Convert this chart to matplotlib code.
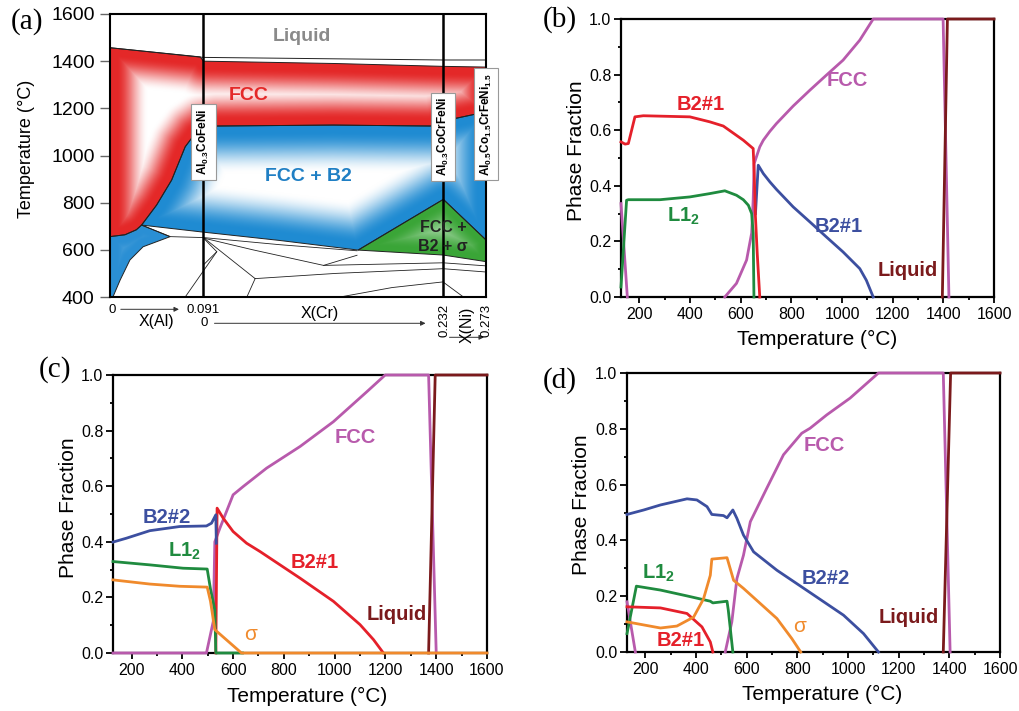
import numpy as np
import matplotlib
matplotlib.use('Agg')
import matplotlib.pyplot as plt
from matplotlib.patches import Polygon, FancyArrowPatch
from matplotlib.ticker import MultipleLocator, FormatStrFormatter

plt.rcParams['font.family'] = ['Liberation Sans', 'DejaVu Sans']
plt.rcParams['mathtext.fontset'] = 'custom'
plt.rcParams['mathtext.rm'] = 'Liberation Sans'
plt.rcParams['mathtext.bf'] = 'Liberation Sans:bold'
plt.rcParams['mathtext.it'] = 'Liberation Sans:italic'

# ================= DATA =================
# ---- panel (a): isopleth, x = position along composite composition axis (0..1), y = T (°C)
a_yticks = [400, 600, 800, 1000, 1200, 1400, 1600]
liq_u = [0, 0.2485, 0.8856, 1.0]
liq_T = [1457, 1416, 1405, 1405]
fcc_u = [0, 0.24, 0.2485, 0.6, 0.8856, 1.0, 1.0, 0.918, 0.852, 0.594, 0.284, 0.2485,
         0.225, 0.2, 0.164, 0.124, 0.084, 0.07, 0.04, 0]
fcc_T = [1457, 1418, 1400, 1390, 1378, 1375, 1185, 1157, 1125, 1129, 1125, 1115,
         1090, 1037, 896, 790, 705, 685, 664, 656]
b2_u = [0.084, 0.124, 0.164, 0.2, 0.225, 0.2485, 0.284, 0.594, 0.852, 0.918, 1.0,
        1.0, 0.8865, 0.66, 0.45, 0.2485]
b2_T = [705, 790, 896, 1037, 1090, 1115, 1125, 1129, 1125, 1157, 1185,
        642, 814, 599, 640, 675]
b2low_u = [0, 0.04, 0.07, 0.084, 0.16, 0.088, 0.053, 0.027, 0.008, 0]
b2low_T = [656, 664, 685, 705, 656, 613, 557, 472, 401, 400]
sig_u = [0.66, 0.8865, 1.0, 1.0, 0.8856]
sig_T = [599, 814, 642, 550, 578]
# thin phase boundaries in the white low-temperature region
wl1_u, wl1_T = [0.084, 0.16, 0.2485], [705, 656, 652]
wl2_u, wl2_T = [0.2485, 0.45, 0.657], [652, 622, 596]
wl3_u, wl3_T = [0.2485, 0.38, 0.568, 0.657], [650, 600, 534, 577]
wl4_u, wl4_T = [0.568, 0.8856, 1.0], [534, 545, 532]
wl5_u, wl5_T = [0.2485, 0.386], [652, 478]
wl6_u, wl6_T = [0.386, 0.6, 0.8856, 1.0], [478, 500, 520, 506]
wl7_u, wl7_T = [0.2485, 0.284, 0.2], [650, 592, 400]
wl8_u, wl8_T = [0.2485, 0.284], [536, 592]
wl9_u, wl9_T = [0.364, 0.386], [400, 478]
wl10_u, wl10_T = [0.612, 0.75, 0.8856, 0.94], [400, 440, 464, 400]
alloy_u = [0.2485, 0.8856]

# ---- panel (b): Al0.3CoFeNi
b_b21_T = [127, 143, 156, 182, 215, 399, 478, 531, 610, 649, 653, 658, 665, 675]
b_b21_f = [0.558, 0.55, 0.552, 0.648, 0.652, 0.648, 0.63, 0.615, 0.564, 0.534, 0.444, 0.288, 0.156, 0.0]
b_l12_T = [127, 149, 156, 281, 399, 478, 537, 583, 610, 630, 643, 649, 652]
b_l12_f = [0.036, 0.348, 0.35, 0.35, 0.36, 0.372, 0.382, 0.366, 0.35, 0.33, 0.30, 0.23, 0.0]
b_fcclo_T = [127, 152]
b_fcclo_f = [0.336, 0.0]
b_fcc_T = [537, 583, 623, 643, 649, 653, 675, 689, 715, 741, 807, 873, 938, 1004, 1070, 1123, 1399, 1422]
b_fcc_f = [0.0, 0.049, 0.133, 0.23, 0.35, 0.48, 0.54, 0.564, 0.596, 0.624, 0.687, 0.744, 0.798, 0.852,
           0.924, 1.0, 1.0, 0.0]
b_b21b_T = [658, 669, 689, 715, 741, 807, 873, 938, 1004, 1070, 1096, 1123]
b_b21b_f = [0.30, 0.474, 0.444, 0.414, 0.387, 0.324, 0.27, 0.216, 0.162, 0.102, 0.06, 0.0]
b_liq_T = [1396, 1416, 1600]
b_liq_f = [0.0, 1.0, 1.0]

# ---- panel (c): Al0.3CoCrFeNi
c_b22_T = [127, 180, 272, 390, 495, 515, 532, 534]
c_b22_f = [0.399, 0.413, 0.44, 0.455, 0.457, 0.467, 0.497, 0.395]
c_l12_T = [127, 272, 403, 498, 511, 528, 532, 637]
c_l12_f = [0.329, 0.317, 0.305, 0.302, 0.23, 0.156, 0.0, 0.0]
c_sig_T = [127, 272, 390, 498, 511, 528, 633, 1600]
c_sig_f = [0.263, 0.248, 0.24, 0.237, 0.186, 0.084, 0.0, 0.0]
c_fcc_T = [127, 495, 522, 528, 548, 600, 640, 732, 864, 995, 1127, 1199, 1370, 1400]
c_fcc_f = [0.0, 0.0, 0.114, 0.4, 0.449, 0.569, 0.599, 0.665, 0.743, 0.832, 0.94, 1.0, 1.0, 0.0]
c_b21_T = [532, 537, 561, 600, 653, 706, 785, 864, 995, 1100, 1153, 1192]
c_b21_f = [0.0, 0.521, 0.485, 0.437, 0.395, 0.365, 0.317, 0.269, 0.186, 0.102, 0.048, 0.0]
c_liq_T = [1370, 1396, 1600]
c_liq_f = [0.0, 1.0, 1.0]

# ---- panel (d): Al0.5Co1.5CrFeNi1.5
d_b22_T = [127, 193, 259, 364, 403, 443, 462, 508, 522, 545, 561, 587, 627, 719, 850, 982, 1061, 1120]
d_b22_f = [0.493, 0.509, 0.527, 0.549, 0.545, 0.521, 0.493, 0.489, 0.481, 0.509, 0.479, 0.419,
           0.359, 0.293, 0.213, 0.132, 0.066, 0.0]
d_l12_T = [127, 164, 259, 364, 456, 466, 522, 527, 545]
d_l12_f = [0.066, 0.236, 0.222, 0.201, 0.182, 0.176, 0.182, 0.15, 0.0]
d_b21_T = [127, 259, 364, 423, 456, 466]
d_b21_f = [0.162, 0.158, 0.138, 0.09, 0.036, 0.0]
d_sig_T = [127, 259, 324, 390, 429, 456, 462, 522, 548, 587, 653, 719, 778, 813]
d_sig_f = [0.108, 0.086, 0.093, 0.125, 0.19, 0.275, 0.333, 0.338, 0.257, 0.228, 0.174, 0.12, 0.048, 0.0]
d_fcclo_T = [127, 160]
d_fcclo_f = [0.18, 0.0]
d_fcc_T = [515, 541, 561, 587, 614, 679, 745, 817, 850, 916, 1008, 1120, 1376, 1403]
d_fcc_f = [0.0, 0.108, 0.263, 0.347, 0.467, 0.587, 0.707, 0.784, 0.802, 0.85, 0.91, 1.0, 1.0, 0.0]
d_liq_T = [1376, 1405, 1600]
d_liq_f = [0.0, 1.0, 1.0]

x_ticks = [200, 400, 600, 800, 1000, 1200, 1400, 1600]

# ================= STYLE =================
RED = '#e5202a'
GREEN = '#1f8b3f'
BLUE = '#3c4fa0'
MAG = '#b85aac'
ORANGE = '#f08a2c'
LIQ = '#7b1a1c'
LW = 2.0

W, H = 1019, 711
fig = plt.figure(figsize=(W / 100, H / 100), dpi=100)


def rect(x0, y0, x1, y1):
    return [x0 / W, 1 - y1 / H, (x1 - x0) / W, (y1 - y0) / H]


def fpx(x, y):
    return (x / W, 1 - y / H)


# ================= PANEL (a) =================
axa = fig.add_axes(rect(110, 14, 486, 297))
axa.set_xlim(0, 1)
axa.set_ylim(400, 1600)
AW, AH = 376.0, 283.0
nx, ny = 376, 283
gu = np.linspace(0, 1, nx)
gT = np.linspace(400, 1600, ny)
GU, GT = np.meshgrid(gu, gT)
GX = GU * AW
GY = (GT - 400) / 1200 * AH


def shade(uu, TT, color, d0, w, strength):
    px = np.array(uu) * AW
    py = (np.array(TT, float) - 400) / 1200 * AH
    d = np.full(GX.shape, np.inf)
    n = len(px)
    for i in range(n):
        x1, y1 = px[i], py[i]
        x2, y2 = px[(i + 1) % n], py[(i + 1) % n]
        dx, dy = x2 - x1, y2 - y1
        L2 = dx * dx + dy * dy
        if L2 == 0:
            continue
        t = np.clip(((GX - x1) * dx + (GY - y1) * dy) / L2, 0, 1)
        dd = np.hypot(GX - (x1 + t * dx), GY - (y1 + t * dy))
        d = np.minimum(d, dd)
    f = np.clip((d - d0) / w, 0, 1)
    f = f * f * (3 - 2 * f)
    base = np.array(matplotlib.colors.to_rgb(color))
    rgb = base[None, None, :] + (1 - base[None, None, :]) * (f * strength)[:, :, None]
    im = axa.imshow(rgb, extent=[0, 1, 400, 1600], origin='lower', aspect='auto',
                    interpolation='bilinear', zorder=1)
    poly = Polygon(np.column_stack([uu, TT]), closed=True, facecolor='none',
                   edgecolor='#222222', lw=0.7, zorder=2)
    axa.add_patch(poly)
    im.set_clip_path(poly)


shade(fcc_u, fcc_T, '#e42828', 6, 32, 1.0)
shade(b2_u, b2_T, '#1f8bd2', 6, 42, 1.0)
shade(b2low_u, b2low_T, '#2a8fd4', 5, 30, 0.55)
shade(sig_u, sig_T, '#3aa537', 4, 28, 0.55)

axa.plot(liq_u, liq_T, color='#222222', lw=0.7, zorder=3)
for uu, TT in [(wl1_u, wl1_T), (wl2_u, wl2_T), (wl3_u, wl3_T), (wl4_u, wl4_T), (wl5_u, wl5_T),
               (wl6_u, wl6_T), (wl7_u, wl7_T), (wl8_u, wl8_T), (wl9_u, wl9_T), (wl10_u, wl10_T)]:
    axa.plot(uu, TT, color='#222222', lw=0.6, zorder=3)
for u in alloy_u:
    axa.plot([u, u], [400, 1600], color='black', lw=1.8, zorder=4)

box = dict(boxstyle='square,pad=0.4', fc='white', ec='#999999', lw=0.8)
axa.text(0.2485, 1058, r'Al$_\mathbf{0.3}$CoFeNi', rotation=90, ha='center', va='center',
         fontsize=8.5, fontweight='bold', bbox=box, zorder=6)
axa.text(0.8856, 1079, r'Al$_\mathbf{0.3}$CoCrFeNi', rotation=90, ha='center', va='center',
         fontsize=8.5, fontweight='bold', bbox=box, zorder=6)
axa.text(1.0, 1133, r'Al$_\mathbf{0.5}$Co$_\mathbf{1.5}$CrFeNi$_\mathbf{1.5}$', rotation=90,
         ha='center', va='center', fontsize=8.5, fontweight='bold', bbox=box, zorder=6, clip_on=False)

axa.text(0.51, 1504, 'Liquid', color='#8a8a8a', fontsize=14, fontweight='bold', ha='center', va='center')
axa.text(0.368, 1256, 'FCC', color='#e42828', fontsize=14, fontweight='bold', ha='center', va='center')
axa.text(0.528, 909, 'FCC + B2', color='#1f7fc4', fontsize=14, fontweight='bold', ha='center', va='center')
axa.text(0.886, 655, 'FCC +\nB2 + σ', color='#222222', fontsize=11.5, fontweight='bold',
         ha='center', va='center', linespacing=1.3, zorder=5)

axa.set_yticks(a_yticks)
axa.set_xticks([])
axa.tick_params(axis='y', direction='out', length=7, width=1, color='#666666', labelsize=14, pad=4)
for s in axa.spines.values():
    s.set_linewidth(1.5)
    s.set_zorder(5)

fig.text(*fpx(26.7, 149), 'Temperature (°C)', rotation=90, ha='center', va='center', fontsize=13)

# composite composition axis annotations
small = dict(fontsize=9.5, ha='center', va='center')
fig.text(*fpx(111.7, 310), '0', **small)
fig.text(*fpx(203.3, 310), '0.091', **small)
fig.text(*fpx(156.7, 321.7), 'X(Al)', fontsize=11.5, ha='center', va='center')
fig.text(*fpx(204, 323.3), '0', **small)
fig.text(*fpx(320, 313.3), 'X(Cr)', fontsize=11.5, ha='center', va='center')
fig.text(*fpx(445, 320), '0.232', rotation=90, **small)
fig.text(*fpx(466.7, 325), 'X(Ni)', rotation=90, fontsize=11.5, ha='center', va='center')
fig.text(*fpx(486.7, 320), '0.273', rotation=90, **small)
for (x0, y0, x1, y1) in [(118, 309.3, 181.7, 309.3), (211.7, 323.3, 428.3, 323.3),
                         (446.7, 337.3, 486.7, 337.3)]:
    fig.add_artist(FancyArrowPatch(fpx(x0, y0), fpx(x1, y1), transform=fig.transFigure,
                                   arrowstyle='-|>', mutation_scale=7, lw=0.7, color='#333333'))


# ================= PANELS (b)-(d) =================
def setup(ax):
    ax.set_xlim(127, 1600)
    ax.set_ylim(0, 1)
    ax.set_xticks(x_ticks)
    ax.xaxis.set_minor_locator(MultipleLocator(100))
    ax.yaxis.set_major_locator(MultipleLocator(0.2))
    ax.yaxis.set_minor_locator(MultipleLocator(0.1))
    ax.yaxis.set_major_formatter(FormatStrFormatter('%.1f'))
    ax.tick_params(axis='both', which='major', direction='out', width=1.3, labelsize=11.5)
    ax.tick_params(axis='y', which='major', length=5, pad=2)
    ax.tick_params(axis='x', which='major', length=4, pad=3)
    ax.tick_params(axis='both', which='minor', direction='out', width=1.3, length=2.5)
    for s in ax.spines.values():
        s.set_linewidth(1.6)


def curve(ax, T, f, color):
    ax.plot(T, f, color=color, lw=LW, zorder=3, clip_on=False, solid_joinstyle='round')


lab = dict(fontsize=14.5, fontweight='bold', ha='center', va='center')

# (b)
axb = fig.add_axes(rect(621, 19, 994, 297))
setup(axb)
curve(axb, b_fcclo_T, b_fcclo_f, MAG)
curve(axb, b_fcc_T, b_fcc_f, MAG)
curve(axb, b_liq_T, b_liq_f, LIQ)
curve(axb, b_b21b_T, b_b21b_f, BLUE)
curve(axb, b_l12_T, b_l12_f, GREEN)
curve(axb, b_b21_T, b_b21_f, RED)
axb.text(441, 0.694, 'B2#1', color=RED, **lab)
axb.text(1020, 0.78, 'FCC', color=MAG, **lab)
axb.text(310, 0.27, r'L1$_\mathbf{2}$', color=GREEN, fontsize=14.5, fontweight='bold', ha='left', va='baseline')
axb.text(986, 0.253, 'B2#1', color=BLUE, **lab)
axb.text(1258, 0.094, 'Liquid', color=LIQ, **lab)

# (c)
axc = fig.add_axes(rect(113, 375, 487, 653))
setup(axc)
curve(axc, c_fcc_T, c_fcc_f, MAG)
curve(axc, c_liq_T, c_liq_f, LIQ)
curve(axc, c_b21_T, c_b21_f, RED)
curve(axc, c_b22_T, c_b22_f, BLUE)
curve(axc, c_l12_T, c_l12_f, GREEN)
curve(axc, c_sig_T, c_sig_f, ORANGE)
axc.text(339, 0.488, 'B2#2', color=BLUE, **lab)
axc.text(342, 0.347, r'L1$_\mathbf{2}$', color=GREEN, fontsize=14.5, fontweight='bold', ha='left', va='baseline')
axc.text(1080, 0.776, 'FCC', color=MAG, **lab)
axc.text(923, 0.325, 'B2#1', color=RED, **lab)
axc.text(1246, 0.137, 'Liquid', color=LIQ, **lab)
axc.text(670, 0.066, 'σ', color=ORANGE, fontsize=15, ha='center', va='center')

# (d)
axd = fig.add_axes(rect(627, 373, 1000, 652))
setup(axd)
curve(axd, d_fcclo_T, d_fcclo_f, MAG)
curve(axd, d_fcc_T, d_fcc_f, MAG)
curve(axd, d_liq_T, d_liq_f, LIQ)
curve(axd, d_b22_T, d_b22_f, BLUE)
curve(axd, d_l12_T, d_l12_f, GREEN)
curve(axd, d_b21_T, d_b21_f, RED)
curve(axd, d_sig_T, d_sig_f, ORANGE)
axd.text(906, 0.74, 'FCC', color=MAG, **lab)
axd.text(186, 0.263, r'L1$_\mathbf{2}$', color=GREEN, fontsize=14.5, fontweight='bold', ha='left', va='baseline')
axd.text(910, 0.265, 'B2#2', color=BLUE, **lab)
axd.text(339, 0.041, 'B2#1', color=RED, **lab)
axd.text(807, 0.09, 'σ', color=ORANGE, fontsize=15, ha='center', va='center')
axd.text(1241, 0.125, 'Liquid', color=LIQ, **lab)

# axis titles
for (yx, yy, xx, xy) in [(576.7, 151, 816.7, 339), (68.3, 507.5, 307.5, 696), (581.7, 505, 822.5, 694)]:
    fig.text(*fpx(yx, yy), 'Phase Fraction', rotation=90, ha='center', va='center', fontsize=15)
    fig.text(*fpx(xx, xy), 'Temperature (°C)', ha='center', va='center', fontsize=15)

# panel letters
serif = dict(fontsize=21, family=['Liberation Serif', 'DejaVu Serif'], ha='center', va='center')
fig.text(*fpx(27, 22), '(a)', **serif)
fig.text(*fpx(560, 20), '(b)', **serif)
fig.text(*fpx(55, 370), '(c)', **serif)
fig.text(*fpx(560, 381), '(d)', **serif)

fig.savefig('out.png', dpi=100)
